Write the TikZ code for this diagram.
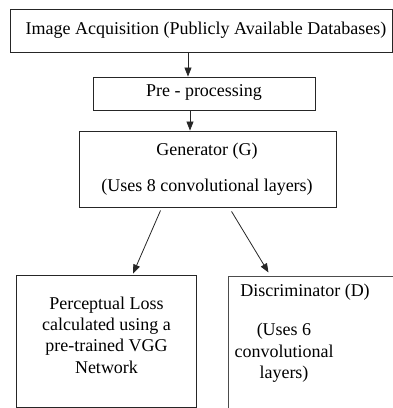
\documentclass[tikz,border=0pt]{standalone}
\usepackage{fontspec}
\setmainfont{Liberation Serif}
\usetikzlibrary{arrows.meta,calc}
\begin{document}
\begin{tikzpicture}[x=1pt,y=-1pt,
  font=\fontsize{18}{21.3}\selectfont,
  box/.style={draw=black!85, line width=0.9pt, inner sep=0pt},
  link/.style={draw=black!85, line width=0.8pt, -{Triangle[length=9pt,width=7pt]}}]
\useasboundingbox (0,0) rectangle (393,408);
\clip (0,0) rectangle (393,408);

% boxes
\node[box, minimum width=382pt, minimum height=43pt] (acq) at (201,30.5) {};
\node at (206,30) {Image Acquisition (Publicly Available Databases)};

\node[box, minimum width=222pt, minimum height=33pt] (pre) at (204,93.5) {};
\node at (204,92) {Pre - processing};

\node[box, minimum width=257pt, minimum height=76pt] (gen) at (207.5,169) {};
\node at (207,151) {Generator (G)};
\node at (207,187) {(Uses 8 convolutional layers)};

\node[box, minimum width=180pt, minimum height=132pt] (perc) at (106.5,341) {};
\node[align=center] at (106.5,335)
  {Perceptual Loss\\calculated using a\\pre-trained VGG\\Network};

\node[box, draw=black!70, line width=1.1pt, minimum width=180pt, minimum height=150pt,
      anchor=north west] (disc) at (227.5,275.5) {};
\node at (305,292) {Discriminator (D)};
\node[align=center, font=\fontsize{18}{21.5}\selectfont] at (284,353)
  {(Uses 6\\convolutional\\layers)};

% connectors
\draw[link] (acq.south -| 188,0) -- (pre.north -| 188,0);
\draw[link] (pre.south -| 190,0) -- (gen.north -| 190,0);
\draw[link] ($(gen.south west)+(82,3)$) -- ($(perc.north west)+(117,-1)$);
\draw[link] ($(gen.south west)+(153,4)$) -- ($(disc.north west)+(41,-3)$);
\end{tikzpicture}
\end{document}
